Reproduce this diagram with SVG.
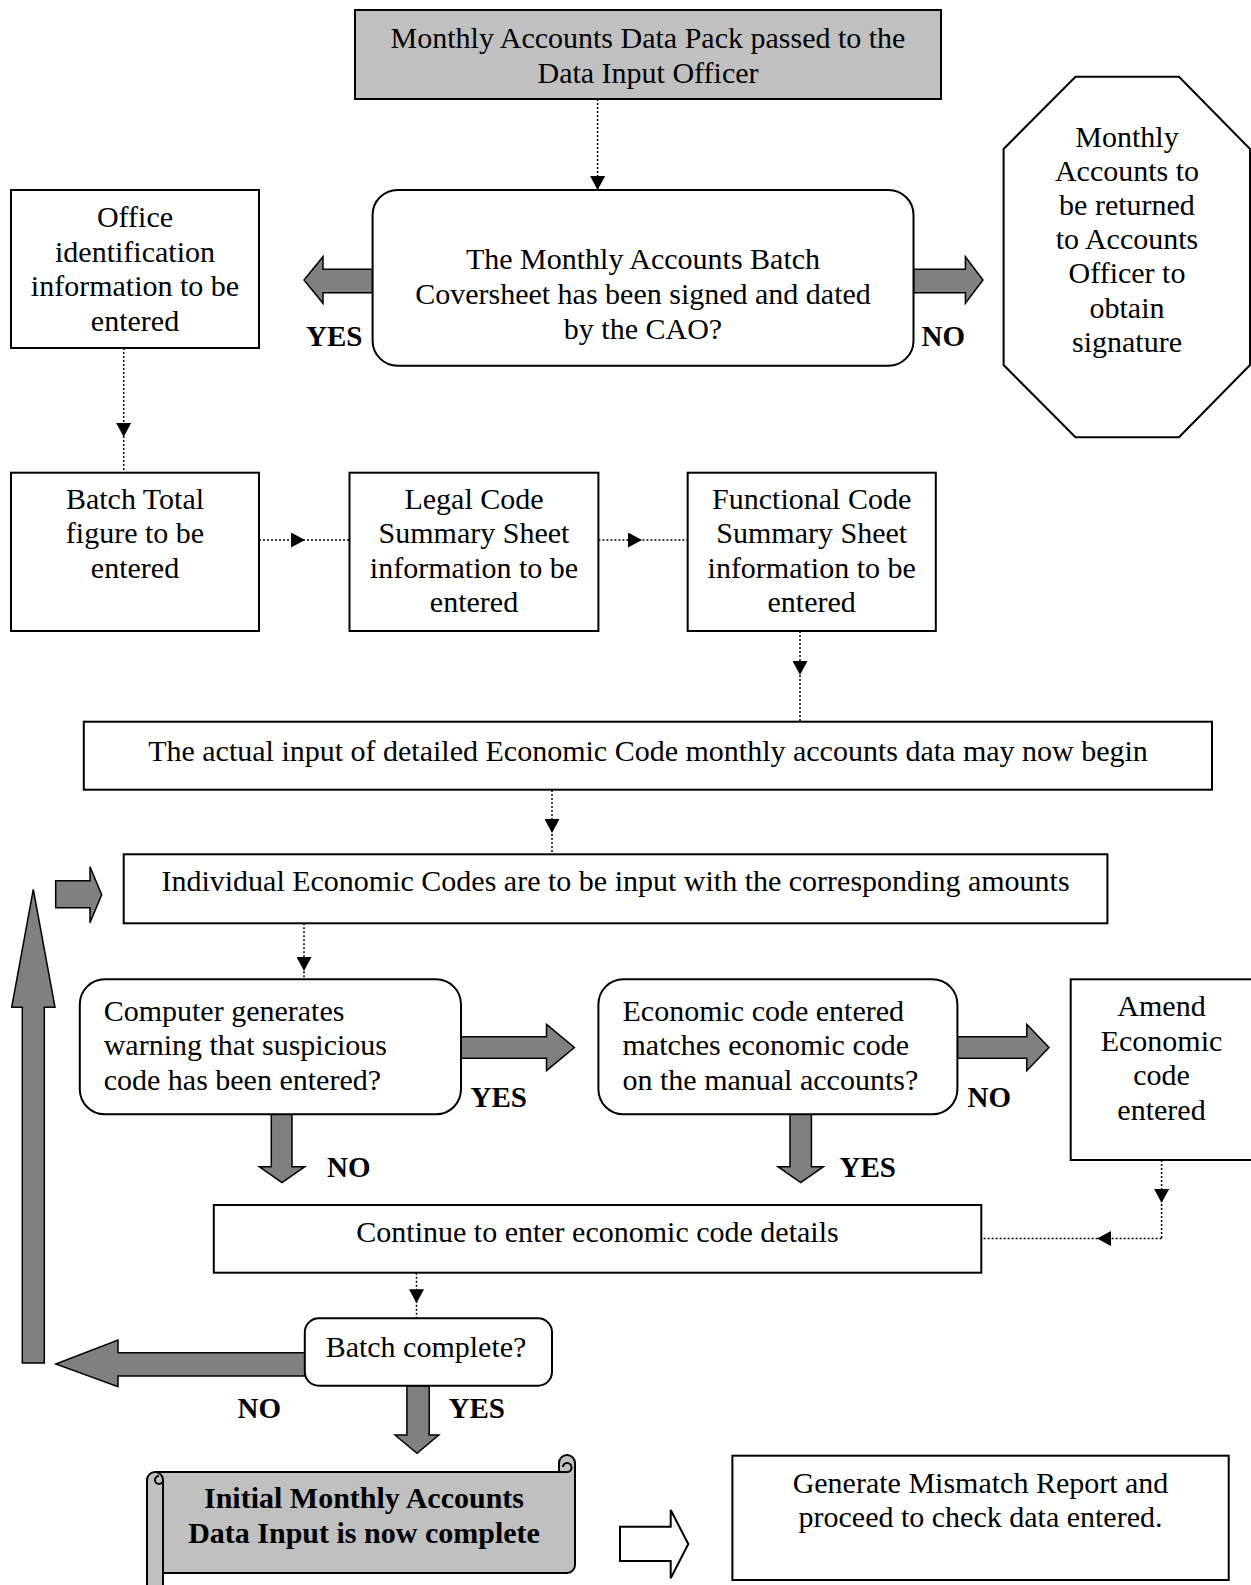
<svg xmlns="http://www.w3.org/2000/svg" width="1251" height="1585" viewBox="0 0 1251 1585">
  <style>
    .box { fill: #fff; stroke: #000; stroke-width: 2; }
    .grey { fill: #c0c0c0; }
    .t { font-family: "Liberation Serif", "Times New Roman", serif; font-size: 30px; fill: #000; }
    .c { text-anchor: middle; }
    .b { font-weight: bold; }
    .lbl { font-family: "Liberation Serif", "Times New Roman", serif; font-size: 29px; font-weight: bold; fill: #000; }
    .conn { fill: none; stroke: #000; stroke-width: 1.5; stroke-dasharray: 2 2; }
    .blk { fill: #808080; stroke: #000; stroke-width: 1.5; }
    .hollow { fill: #fff; stroke: #000; stroke-width: 2; }
  </style>
  <defs>
    <marker id="ah" viewBox="0 0 14 15" markerWidth="14" markerHeight="15" refX="14" refY="7.5" orient="auto" markerUnits="userSpaceOnUse">
      <path d="M0,0 L14,7.5 L0,15 Z" fill="#000"/>
    </marker>
  </defs>

  <rect width="1251" height="1585" fill="#fff"/>

  <!-- dotted connectors -->
  <g id="connectors">
    <path class="conn" d="M597.6,99 L597.6,190" marker-end="url(#ah)"/>
    <path class="conn" d="M123.7,348 L123.7,437 L123.7,472.7" marker-mid="url(#ah)"/>
    <path class="conn" d="M259,540 L305,540 L349.5,540" marker-mid="url(#ah)"/>
    <path class="conn" d="M598.4,540 L642,540 L687.7,540" marker-mid="url(#ah)"/>
    <path class="conn" d="M800,631 L800,675 L800,721.7" marker-mid="url(#ah)"/>
    <path class="conn" d="M552,790 L552,833 L552,854.3" marker-mid="url(#ah)"/>
    <path class="conn" d="M304,923.3 L304,971 L304,979.3" marker-mid="url(#ah)"/>
    <path class="conn" d="M1161.6,1160 L1161.6,1203 L1161.6,1238.5" marker-mid="url(#ah)"/>
    <path class="conn" d="M1161.6,1238.5 L1097,1238.5 L981.3,1238.5" marker-mid="url(#ah)"/>
    <path class="conn" d="M416.5,1272.7 L416.5,1303.3 L416.5,1318.3" marker-mid="url(#ah)"/>
  </g>

  <!-- block arrows -->
  <g id="block-arrows">
    <polygon class="blk" points="372.6,269.3 323,269.3 323,256.7 304,280 323,303.3 323,292.7 372.6,292.7"/>
    <polygon class="blk" points="913.5,269.3 965.4,269.3 965.4,256.7 983,280 965.4,303.3 965.4,292.7 913.5,292.7"/>
    <polygon class="blk" points="461,1036.7 546.5,1036.7 546.5,1024.3 574.4,1047.5 546.5,1070.7 546.5,1058.3 461,1058.3"/>
    <polygon class="blk" points="957.4,1036.7 1026.8,1036.7 1026.8,1024.3 1049,1047.5 1026.8,1070.7 1026.8,1058.3 957.4,1058.3"/>
    <polygon class="blk" points="271.3,1114.3 271.3,1166.7 259.3,1166.7 282,1182.7 304.8,1166.7 292,1166.7 292,1114.3"/>
    <polygon class="blk" points="790,1114.3 790,1166.7 778,1166.7 800.7,1182.7 823.4,1166.7 811.4,1166.7 811.4,1114.3"/>
    <polygon class="blk" points="304.8,1352.7 118,1352.7 118,1340 55.8,1364 118,1386.7 118,1376 304.8,1376"/>
    <polygon class="blk" points="406.9,1385.7 406.9,1435 395,1435 417,1453.3 438.8,1435 429.2,1435 429.2,1385.7"/>
    <polygon class="blk" points="22.3,1363 22.3,1007.3 11.7,1007.3 33.3,889.3 55,1007.3 44.3,1007.3 44.3,1363"/>
    <polygon class="blk" points="55.7,880.7 90,880.7 90,866.7 101.7,894.7 90,922.7 90,907.7 55.7,907.7"/>
    <polygon class="hollow" points="620,1526.7 670.7,1526.7 670.7,1510 688.3,1544 670.7,1578.3 670.7,1561 620,1561"/>
  </g>

  <!-- branch labels -->
  <g id="labels">
    <text class="lbl" x="306" y="345.5">YES</text>
    <text class="lbl" x="921.5" y="345.5">NO</text>
    <text class="lbl" x="470.5" y="1106.5">YES</text>
    <text class="lbl" x="967.5" y="1106.5">NO</text>
    <text class="lbl" x="327" y="1177">NO</text>
    <text class="lbl" x="839.5" y="1177">YES</text>
    <text class="lbl" x="237.5" y="1417.5">NO</text>
    <text class="lbl" x="448.5" y="1417.5">YES</text>
  </g>

  <g id="data-pack">
    <rect class="box grey" x="355" y="10" width="586" height="89"/>
    <text class="t c" x="648" y="48">Monthly Accounts Data Pack passed to the</text>
    <text class="t c" x="648" y="83">Data Input Officer</text>
  </g>

  <g id="coversheet-signed">
    <rect class="box" x="372.6" y="190" width="540.9" height="175.7" rx="25" ry="25"/>
    <text class="t c" x="643" y="269">The Monthly Accounts Batch</text>
    <text class="t c" x="643" y="304">Coversheet has been signed and dated</text>
    <text class="t c" x="643" y="339">by the CAO?</text>
  </g>

  <g id="office-id">
    <rect class="box" x="11" y="190" width="248" height="158"/>
    <text class="t c" x="135" y="227">Office</text>
    <text class="t c" x="135" y="261.5">identification</text>
    <text class="t c" x="135" y="296">information to be</text>
    <text class="t c" x="135" y="330.5">entered</text>
  </g>

  <g id="return-accounts">
    <polygon class="box" points="1075.5,76.7 1179,76.7 1250,149 1250,365 1179,437.3 1075.5,437.3 1003.6,365 1003.6,149"/>
    <text class="t c" x="1127" y="146.5">Monthly</text>
    <text class="t c" x="1127" y="180.7">Accounts to</text>
    <text class="t c" x="1127" y="214.9">be returned</text>
    <text class="t c" x="1127" y="249.1">to Accounts</text>
    <text class="t c" x="1127" y="283.3">Officer to</text>
    <text class="t c" x="1127" y="317.5">obtain</text>
    <text class="t c" x="1127" y="351.7">signature</text>
  </g>

  <g id="batch-total">
    <rect class="box" x="11" y="472.7" width="248" height="158.3"/>
    <text class="t c" x="135" y="508.5">Batch Total</text>
    <text class="t c" x="135" y="543">figure to be</text>
    <text class="t c" x="135" y="577.5">entered</text>
  </g>

  <g id="legal-code">
    <rect class="box" x="349.5" y="472.7" width="248.9" height="158.3"/>
    <text class="t c" x="474" y="508.5">Legal Code</text>
    <text class="t c" x="474" y="543">Summary Sheet</text>
    <text class="t c" x="474" y="577.5">information to be</text>
    <text class="t c" x="474" y="612">entered</text>
  </g>

  <g id="functional-code">
    <rect class="box" x="687.7" y="472.7" width="248.1" height="158.3"/>
    <text class="t c" x="811.7" y="508.5">Functional Code</text>
    <text class="t c" x="811.7" y="543">Summary Sheet</text>
    <text class="t c" x="811.7" y="577.5">information to be</text>
    <text class="t c" x="811.7" y="612">entered</text>
  </g>

  <g id="begin-input">
    <rect class="box" x="83.8" y="721.7" width="1128.2" height="68"/>
    <text class="t c" x="648" y="761">The actual input of detailed Economic Code monthly accounts data may now begin</text>
  </g>

  <g id="individual-codes">
    <rect class="box" x="123.7" y="854.3" width="983.7" height="69"/>
    <text class="t c" x="615.5" y="891">Individual Economic Codes are to be input with the corresponding amounts</text>
  </g>

  <g id="suspicious-code">
    <rect class="box" x="79.8" y="979.3" width="381.2" height="135" rx="25" ry="25"/>
    <text class="t" x="103.7" y="1020.5">Computer generates</text>
    <text class="t" x="103.7" y="1055">warning that suspicious</text>
    <text class="t" x="103.7" y="1089.5">code has been entered?</text>
  </g>

  <g id="code-matches">
    <rect class="box" x="598.4" y="979.3" width="359" height="135" rx="25" ry="25"/>
    <text class="t" x="622.5" y="1020.5">Economic code entered</text>
    <text class="t" x="622.5" y="1055">matches economic code</text>
    <text class="t" x="622.5" y="1089.5">on the manual accounts?</text>
  </g>

  <g id="amend-code">
    <rect class="box" x="1070.7" y="979.3" width="182" height="180.7"/>
    <text class="t c" x="1161.5" y="1016">Amend</text>
    <text class="t c" x="1161.5" y="1050.7">Economic</text>
    <text class="t c" x="1161.5" y="1085.3">code</text>
    <text class="t c" x="1161.5" y="1120">entered</text>
  </g>

  <g id="continue-entry">
    <rect class="box" x="213.8" y="1205" width="767.5" height="67.7"/>
    <text class="t c" x="597.5" y="1241.5">Continue to enter economic code details</text>
  </g>

  <g id="batch-complete">
    <rect class="box" x="304.8" y="1318.3" width="247.2" height="67.4" rx="14" ry="14"/>
    <text class="t c" x="426" y="1357">Batch complete?</text>
  </g>

  <g id="input-complete">
    <path class="box grey" d="M147,1480 A8,8 0 0 1 155,1472 L559,1472 L559,1463 A8,8 0 0 1 575,1463 L575,1565 A8,8 0 0 1 567,1573 L163,1573 L163,1592 L147,1592 Z"/>
    <path fill="none" stroke="#000" stroke-width="2" d="M155,1472 A8,8 0 0 1 163,1480 L163,1573 M163,1480 A4,4 0 0 1 155,1480 A4,4 0 0 1 159,1476"/>
    <path fill="none" stroke="#000" stroke-width="2" d="M559,1472 L567,1472 A4.5,4.5 0 0 0 567,1463 A4,4 0 0 0 563,1467 M575,1465 L575,1472"/>
    <text class="t c b" x="364" y="1508">Initial Monthly Accounts</text>
    <text class="t c b" x="364" y="1543">Data Input is now complete</text>
  </g>

  <g id="mismatch-report">
    <rect class="box" x="732.4" y="1455.7" width="496.3" height="124.3"/>
    <text class="t c" x="980.5" y="1493">Generate Mismatch Report and</text>
    <text class="t c" x="980.5" y="1527">proceed to check data entered.</text>
  </g>
</svg>
